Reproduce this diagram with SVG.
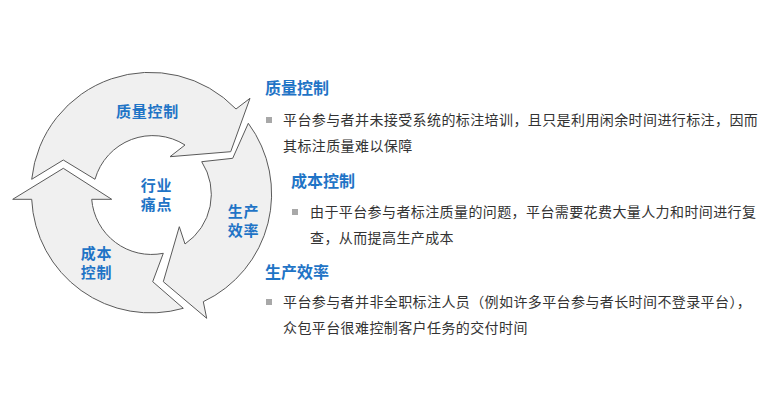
<svg xmlns="http://www.w3.org/2000/svg" width="770" height="400" viewBox="0 0 770 400">
  <style>
    .arrow { fill: #f0f0f0; stroke: #5a5a5a; stroke-width: 1; stroke-linejoin: miter; }
    .lbl { font-family: "Noto Sans CJK SC", sans-serif; font-size: 15px; font-weight: bold; fill: #1f74c6; text-anchor: middle; letter-spacing: 0.8px; }
    .head { font-family: "Noto Sans CJK SC", sans-serif; font-size: 16px; font-weight: bold; fill: #1f74c6; }
    .body { font-family: "Noto Sans CJK SC", sans-serif; font-size: 14px; fill: #333333; letter-spacing: 0.4px; }
    .bullet { fill: #a8a8a8; }
  </style>
  <rect width="770" height="400" fill="#ffffff"/>

  <g id="cycle">
    <g id="node-quality">
      <path class="arrow" d="M 31.7 179.3 L 63.3 160 L 95 179.3 A 60 60 0 0 1 185 145 L 170 156.7 L 230.7 151.7 L 250 98.3 L 236 109 A 119 119 0 0 0 31.7 179.3 Z"/>
      <text class="lbl" x="147.5" y="117">质量控制</text>
    </g>
    <g id="node-efficiency">
      <path class="arrow" d="M 248.3 123.3 L 232.7 158.3 L 201.7 161.7 A 60 60 0 0 1 185 244 L 179.3 226.7 L 163.3 281.7 L 206.7 318.3 L 203.3 301.7 A 119 119 0 0 0 248.3 123.3 Z"/>
      <text class="lbl" x="243.5" y="216.5">生产<tspan x="243.5" dy="19">效率</tspan></text>
    </g>
    <g id="node-cost">
      <path class="arrow" d="M 163.3 253.3 L 152.7 281.7 L 183.3 308.3 A 119 119 0 0 1 31.7 199.3 L 12.7 199.3 L 63.3 168.3 L 111.7 199.3 L 91.7 199.3 A 60 60 0 0 0 163.3 253.3 Z"/>
      <text class="lbl" x="96.5" y="258.5">成本<tspan x="96.5" dy="19">控制</tspan></text>
    </g>
    <g id="node-center">
      <text class="lbl" x="156.5" y="190.5">行业<tspan x="156.5" dy="19">痛点</tspan></text>
    </g>
  </g>

  <g id="connectors"></g>

  <g id="text-quality">
    <text class="head" x="265" y="94">质量控制</text>
    <rect class="bullet" x="266" y="117" width="6" height="6"/>
    <text class="body" x="283" y="125">平台参与者并未接受系统的标注培训，且只是利用闲余时间进行标注，因而</text>
    <text class="body" x="283" y="151">其标注质量难以保障</text>
  </g>

  <g id="text-cost">
    <text class="head" x="291" y="187">成本控制</text>
    <rect class="bullet" x="292" y="209" width="6" height="6"/>
    <text class="body" x="310" y="217">由于平台参与者标注质量的问题，平台需要花费大量人力和时间进行复</text>
    <text class="body" x="310" y="243">查，从而提高生产成本</text>
  </g>

  <g id="text-efficiency">
    <text class="head" x="265" y="278">生产效率</text>
    <rect class="bullet" x="266" y="299" width="6" height="6"/>
    <text class="body" x="283" y="307">平台参与者并非全职标注人员（例如许多平台参与者长时间不登录平台），</text>
    <text class="body" x="283" y="333">众包平台很难控制客户任务的交付时间</text>
  </g>
</svg>
